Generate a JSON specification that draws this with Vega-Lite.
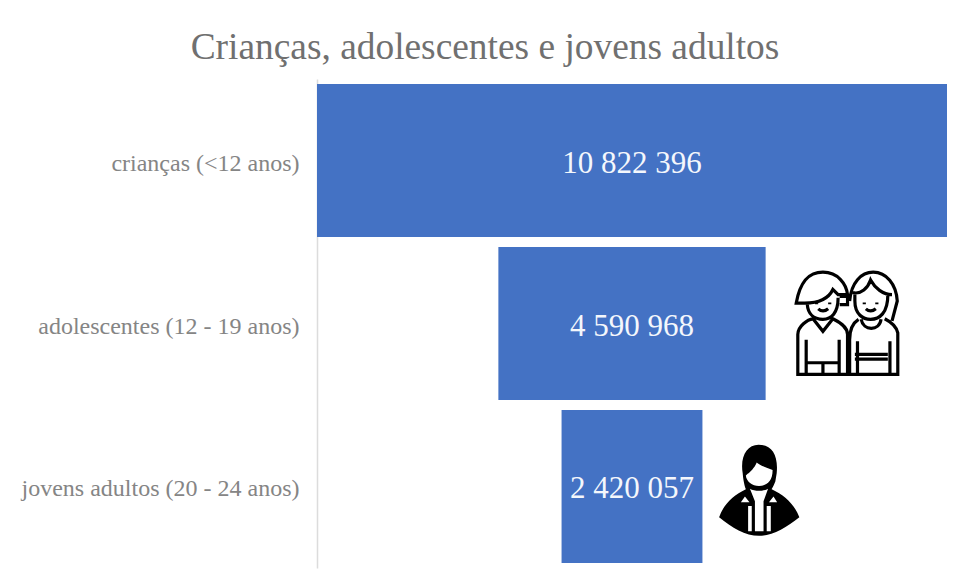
{
  "$schema": "https://vega.github.io/schema/vega-lite/v6.json",
  "width": 630,
  "height": 489,
  "autosize": "none",
  "padding": {"left": 317, "top": 79, "right": 6, "bottom": 8},
  "background": "white",
  "config": {"view": {"stroke": null}},
  "title": {
    "text": "Crianças, adolescentes e jovens adultos",
    "font": "Liberation Serif",
    "fontSize": 37.4,
    "fontWeight": "normal",
    "color": "#707070",
    "anchor": "middle",
    "dx": -147,
    "offset": 13
  },
  "data": {
    "values": [
      {"grupo": "crianças (<12 anos)", "total": 10822396, "rotulo": "10 822 396"},
      {"grupo": "adolescentes (12 - 19 anos)", "total": 4590968, "rotulo": "4 590 968"},
      {"grupo": "jovens adultos (20 - 24 anos)", "total": 2420057, "rotulo": "2 420 057"}
    ]
  },
  "encoding": {
    "y": {
      "field": "grupo",
      "type": "nominal",
      "sort": null,
      "title": null,
      "scale": {
        "domain": ["crianças (<12 anos)", "adolescentes (12 - 19 anos)", "jovens adultos (20 - 24 anos)"],
        "paddingInner": 0.0613,
        "paddingOuter": 0.0307
      },
      "axis": {
        "ticks": false,
        "labelFont": "Liberation Serif",
        "labelFontSize": 24,
        "labelColor": "#858585",
        "labelPadding": 18,
        "labelLimit": 320,
        "labelOffset": 3,
        "domainColor": "#dcdcdc",
        "domainWidth": 1.5,
        "grid": false
      }
    }
  },
  "layer": [
    {
      "mark": {"type": "bar", "fill": "#4472c4"},
      "encoding": {
        "x": {
          "field": "total",
          "type": "quantitative",
          "stack": "center",
          "axis": null,
          "scale": {"domain": [0, 10822396], "nice": false, "zero": false}
        }
      }
    },
    {
      "mark": {"type": "text", "font": "Liberation Serif", "fontSize": 31, "color": "#f4f7fc", "align": "center", "baseline": "middle", "yOffset": 3},
      "encoding": {
        "x": {"datum": 5411198, "type": "quantitative", "axis": null, "scale": {"domain": [0, 10822396], "nice": false, "zero": false}},
        "text": {"field": "rotulo"}
      }
    },
    {
      "data": {"values": [{"grupo": "adolescentes (12 - 19 anos)", "icone": "criancas"}]},
      "mark": {
        "type": "point",
        "filled": false,
        "stroke": "#000000",
        "strokeWidth": 3.2,
        "opacity": 1,
        "size": 10960,
        "shape": "M-0.97,-0.39 C-0.9,-0.78 -0.75,-0.98 -0.46,-0.98 C-0.17,-0.98 -0.01,-0.75 0.01,-0.55 L-0.17,-0.55 L-0.27,-0.65 C-0.36,-0.46 -0.55,-0.39 -0.81,-0.39 Z M-0.76,-0.38 C-0.75,-0.17 -0.62,-0.08 -0.46,-0.08 C-0.3,-0.08 -0.17,-0.2 -0.17,-0.49 M-0.55,-0.28 Q-0.46,-0.2 -0.36,-0.28 M-0.14,-0.52 L0.01,-0.52 L0.01,-0.36 L-0.14,-0.36 M-0.94,0.97 L-0.94,0.21 C-0.94,0.05 -0.75,-0.08 -0.65,-0.09 L-0.46,0.15 L-0.27,-0.09 C-0.17,-0.04 0.01,0.05 0.01,0.21 L0.01,0.97 Z M-0.78,0.31 L-0.78,0.97 M-0.15,0.31 L-0.15,0.97 M-0.78,0.75 L-0.15,0.75 M-0.46,0.78 L-0.46,0.97 M0.05,-0.43 C0.08,-0.78 0.27,-0.98 0.5,-0.98 C0.75,-0.98 0.94,-0.75 0.96,-0.43 L0.86,-0.05 M0.11,-0.59 C0.27,-0.55 0.4,-0.68 0.45,-0.83 C0.53,-0.68 0.69,-0.55 0.86,-0.55 M0.15,-0.55 L0.15,-0.43 C0.15,-0.17 0.31,-0.08 0.45,-0.08 C0.62,-0.08 0.78,-0.2 0.78,-0.55 M0.36,-0.28 Q0.45,-0.2 0.55,-0.28 M0.22,-0.08 C0.11,-0.01 0.05,0.11 0.05,0.31 L0.05,0.97 L0.97,0.97 L0.97,0.18 C0.94,0.05 0.82,-0.04 0.72,-0.09 M0.27,-0.08 C0.31,0.15 0.62,0.15 0.65,-0.08 M0.15,0.59 L0.78,0.59 M0.15,0.68 L0.78,0.68 M0.2,0.34 L0.2,0.97 M0.82,0.34 L0.82,0.97 M-0.58,-0.4 L-0.58,-0.37 M-0.33,-0.4 L-0.33,-0.37 M0.33,-0.4 L0.33,-0.37 M0.57,-0.4 L0.57,-0.37"
      },
      "encoding": {
        "x": {"datum": 9104800, "type": "quantitative", "axis": null, "scale": {"domain": [0, 10822396], "nice": false, "zero": false}}
      }
    },
    {
      "data": {"values": [{"grupo": "jovens adultos (20 - 24 anos)", "icone": "adulto"}]},
      "mark": {
        "type": "point",
        "filled": true,
        "fill": "#000000",
        "stroke": null,
        "opacity": 1,
        "size": 8220,
        "yOffset": 4,
        "shape": "M-0.36,-0.38 C-0.42,-0.75 -0.27,-1.01 -0.01,-1.01 C0.28,-1.01 0.43,-0.79 0.39,-0.38 L0.36,-0.2 C0.3,-0.05 0.27,-0.03 0.28,-0.03 C0.57,0.1 0.79,0.32 0.89,0.59 C0.6,0.82 0.3,1 0,1 C-0.3,1 -0.6,0.82 -0.88,0.59 C-0.79,0.32 -0.57,0.1 -0.29,-0.03 C-0.3,-0.05 -0.34,-0.15 -0.36,-0.38 Z"
      },
      "encoding": {
        "x": {"datum": 7592900, "type": "quantitative", "axis": null, "scale": {"domain": [0, 10822396], "nice": false, "zero": false}}
      }
    },
    {
      "data": {"values": [{"grupo": "jovens adultos (20 - 24 anos)", "icone": "adulto detalhes"}]},
      "mark": {
        "type": "point",
        "filled": true,
        "fill": "#ffffff",
        "stroke": null,
        "opacity": 1,
        "size": 8220,
        "yOffset": 4,
        "shape": "M-0.29,-0.33 C-0.28,-0.2 -0.15,-0.1 0,-0.1 C0.17,-0.1 0.3,-0.2 0.3,-0.45 L0.17,-0.5 C0.05,-0.54 -0.03,-0.6 -0.05,-0.62 C-0.1,-0.5 -0.2,-0.4 -0.25,-0.37 Z M-0.2,-0.04 C-0.1,0.02 0.1,0.02 0.2,-0.04 L0.1,0.24 L-0.09,0.24 Z M-0.4,0.26 L-0.31,0.13 L-0.21,0.26 Z M0.22,0.26 L0.32,0.13 L0.4,0.26 Z M-0.24,0.34 L-0.16,0.34 L-0.16,0.9 L-0.24,0.9 Z M-0.09,0.24 L0.1,0.24 L0.1,0.9 L-0.09,0.9 Z M0.17,0.34 L0.26,0.34 L0.26,0.9 L0.17,0.9 Z"
      },
      "encoding": {
        "x": {"datum": 7592900, "type": "quantitative", "axis": null, "scale": {"domain": [0, 10822396], "nice": false, "zero": false}}
      }
    }
  ]
}
